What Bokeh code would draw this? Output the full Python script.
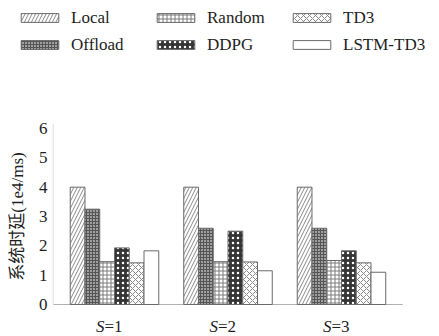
from math import pi
from bokeh.plotting import figure
from bokeh.models import (ColumnDataSource, Range1d, Legend, LegendItem, LabelSet, Label)
from bokeh.core.properties import value
from bokeh.embed import file_html
from bokeh.resources import INLINE

# ---- data ----
groups = ["S=1", "S=2", "S=3"]
group_var = ["S", "S", "S"]
group_num = ["=1", "=2", "=3"]
series = ["Local", "Offload", "Random", "DDPG", "TD3", "LSTM-TD3"]
local = [4.0, 4.0, 4.0]
offload = [3.25, 2.6, 2.6]
random_ = [1.46, 1.46, 1.5]
ddpg = [1.93, 2.5, 1.83]
td3 = [1.42, 1.45, 1.42]
lstm_td3 = [1.83, 1.15, 1.1]
y_ticks = [0, 1, 2, 3, 4, 5, 6]
y_label = "系统时延(1e4/ms)"

values = [local, offload, random_, ddpg, td3, lstm_td3]
keys = ["local", "offload", "random", "ddpg", "td3", "lstm"]

gx = list(range(len(groups)))
data = dict(gx=gx, group=groups, var=group_var, num=group_num, base=[0] * len(groups))
for k, v in zip(keys, values):
    data[k] = v
src = ColumnDataSource(data)
tick_src = ColumnDataSource(dict(y=y_ticks, text=[str(t) for t in y_ticks]))

TXT = "#1e1e1e"
FS = "17px"
SERIF = "'Liberation Serif', serif"

# frame covers the whole canvas; axes drawn as annotations
W, H = 439, 336
px_x = 113.5          # pixels per group
x0_px = 114           # pixel of first group centre
px_y = 29.33          # pixels per y unit
y0_px = 304           # pixel (from top) of y = 0
x_range = Range1d(-x0_px / px_x, (W - x0_px) / px_x)
y_range = Range1d(-(H - y0_px) / px_y, y0_px / px_y)

p = figure(width=W, height=H, x_range=x_range, y_range=y_range,
           output_backend="svg", toolbar_location=None,
           x_axis_location=None, y_axis_location=None,
           min_border=0, min_border_left=0, min_border_right=0,
           min_border_top=0, min_border_bottom=0)
p.xgrid.grid_line_color = None
p.ygrid.grid_line_color = None
p.outline_line_color = None
p.background_fill_color = "white"
p.border_fill_color = "white"

# axis lines
n_g = len(groups)
p.segment(x0=[-0.54], x1=[n_g - 0.46], y0=[0], y1=[0], line_color="#b0b0b0", line_width=1)
p.segment(x0=[-0.54], x1=[-0.54], y0=[0], y1=[max(y_ticks) + 0.15], line_color="#dedede", line_width=1)

styles = [
    dict(fill_color="white", hatch_pattern="right_diagonal_line", hatch_color="#8a8a8a", hatch_scale=7, hatch_weight=1),
    dict(fill_color="#a0a0a0", hatch_pattern="cross", hatch_color="#555555", hatch_scale=3, hatch_weight=1),
    dict(fill_color="white", hatch_pattern="cross", hatch_color="#7a7a7a", hatch_scale=4, hatch_weight=1),
    dict(fill_color="#353535", hatch_pattern="dot", hatch_color="white", hatch_scale=5, hatch_weight=1),
    dict(fill_color="white", hatch_pattern="diagonal_cross", hatch_color="#8a8a8a", hatch_scale=6, hatch_weight=1),
    dict(fill_color="white"),
]

w = 0.13
n = len(series)
items = []
for i, (k, name, st) in enumerate(zip(keys, series, styles)):
    off = (i - (n - 1) / 2) * w
    xs = [g + off for g in gx]
    s = ColumnDataSource(dict(x=xs, top=data[k]))
    r = p.vbar(x="x", top="top", width=w, source=s,
               line_color="#6a6a6a", line_width=1, **st)
    items.append(LegendItem(label=name, renderers=[r]))

legend = Legend(items=items, orientation="vertical", nrows=2,
                location=(16, H - 47 - 7.5), margin=0, padding=0, spacing=7,
                glyph_width=47, glyph_height=11, label_standoff=8,
                label_width=74, label_height=20,
                label_text_font=SERIF, label_text_font_size=FS,
                label_text_color=TXT,
                background_fill_alpha=0, border_line_color=None)
p.add_layout(legend, "center")

# x labels with italic variable
lab_var = LabelSet(x="gx", y="base", text="var", source=src, text_align="right",
                   text_baseline="middle", x_offset=-10, y_offset=-22,
                   text_font=value(SERIF), text_font_size=value(FS),
                   text_font_style=value("italic"), text_color=value(TXT))
lab_num = LabelSet(x="gx", y="base", text="num", source=src, text_align="left",
                   text_baseline="middle", x_offset=-10, y_offset=-22,
                   text_font=value(SERIF), text_font_size=value(FS),
                   text_color=value(TXT))
p.add_layout(lab_var)
p.add_layout(lab_num)

# y tick labels
ytl = LabelSet(x=47, x_units="screen", y="y", text="text", source=tick_src,
               text_align="right", text_baseline="middle",
               text_font=value(SERIF), text_font_size=value(FS), text_color=value(TXT))
p.add_layout(ytl)

# y axis title
ylab = Label(x=17, x_units="screen", y=max(y_ticks) / 2, text=y_label, angle=pi / 2,
             text_align="center", text_baseline="middle",
             text_font="'Liberation Serif', 'Noto Sans CJK SC'", text_font_size="17px",
             text_color=TXT)
p.add_layout(ylab)

open("out.html", "w").write(file_html(p, INLINE))
